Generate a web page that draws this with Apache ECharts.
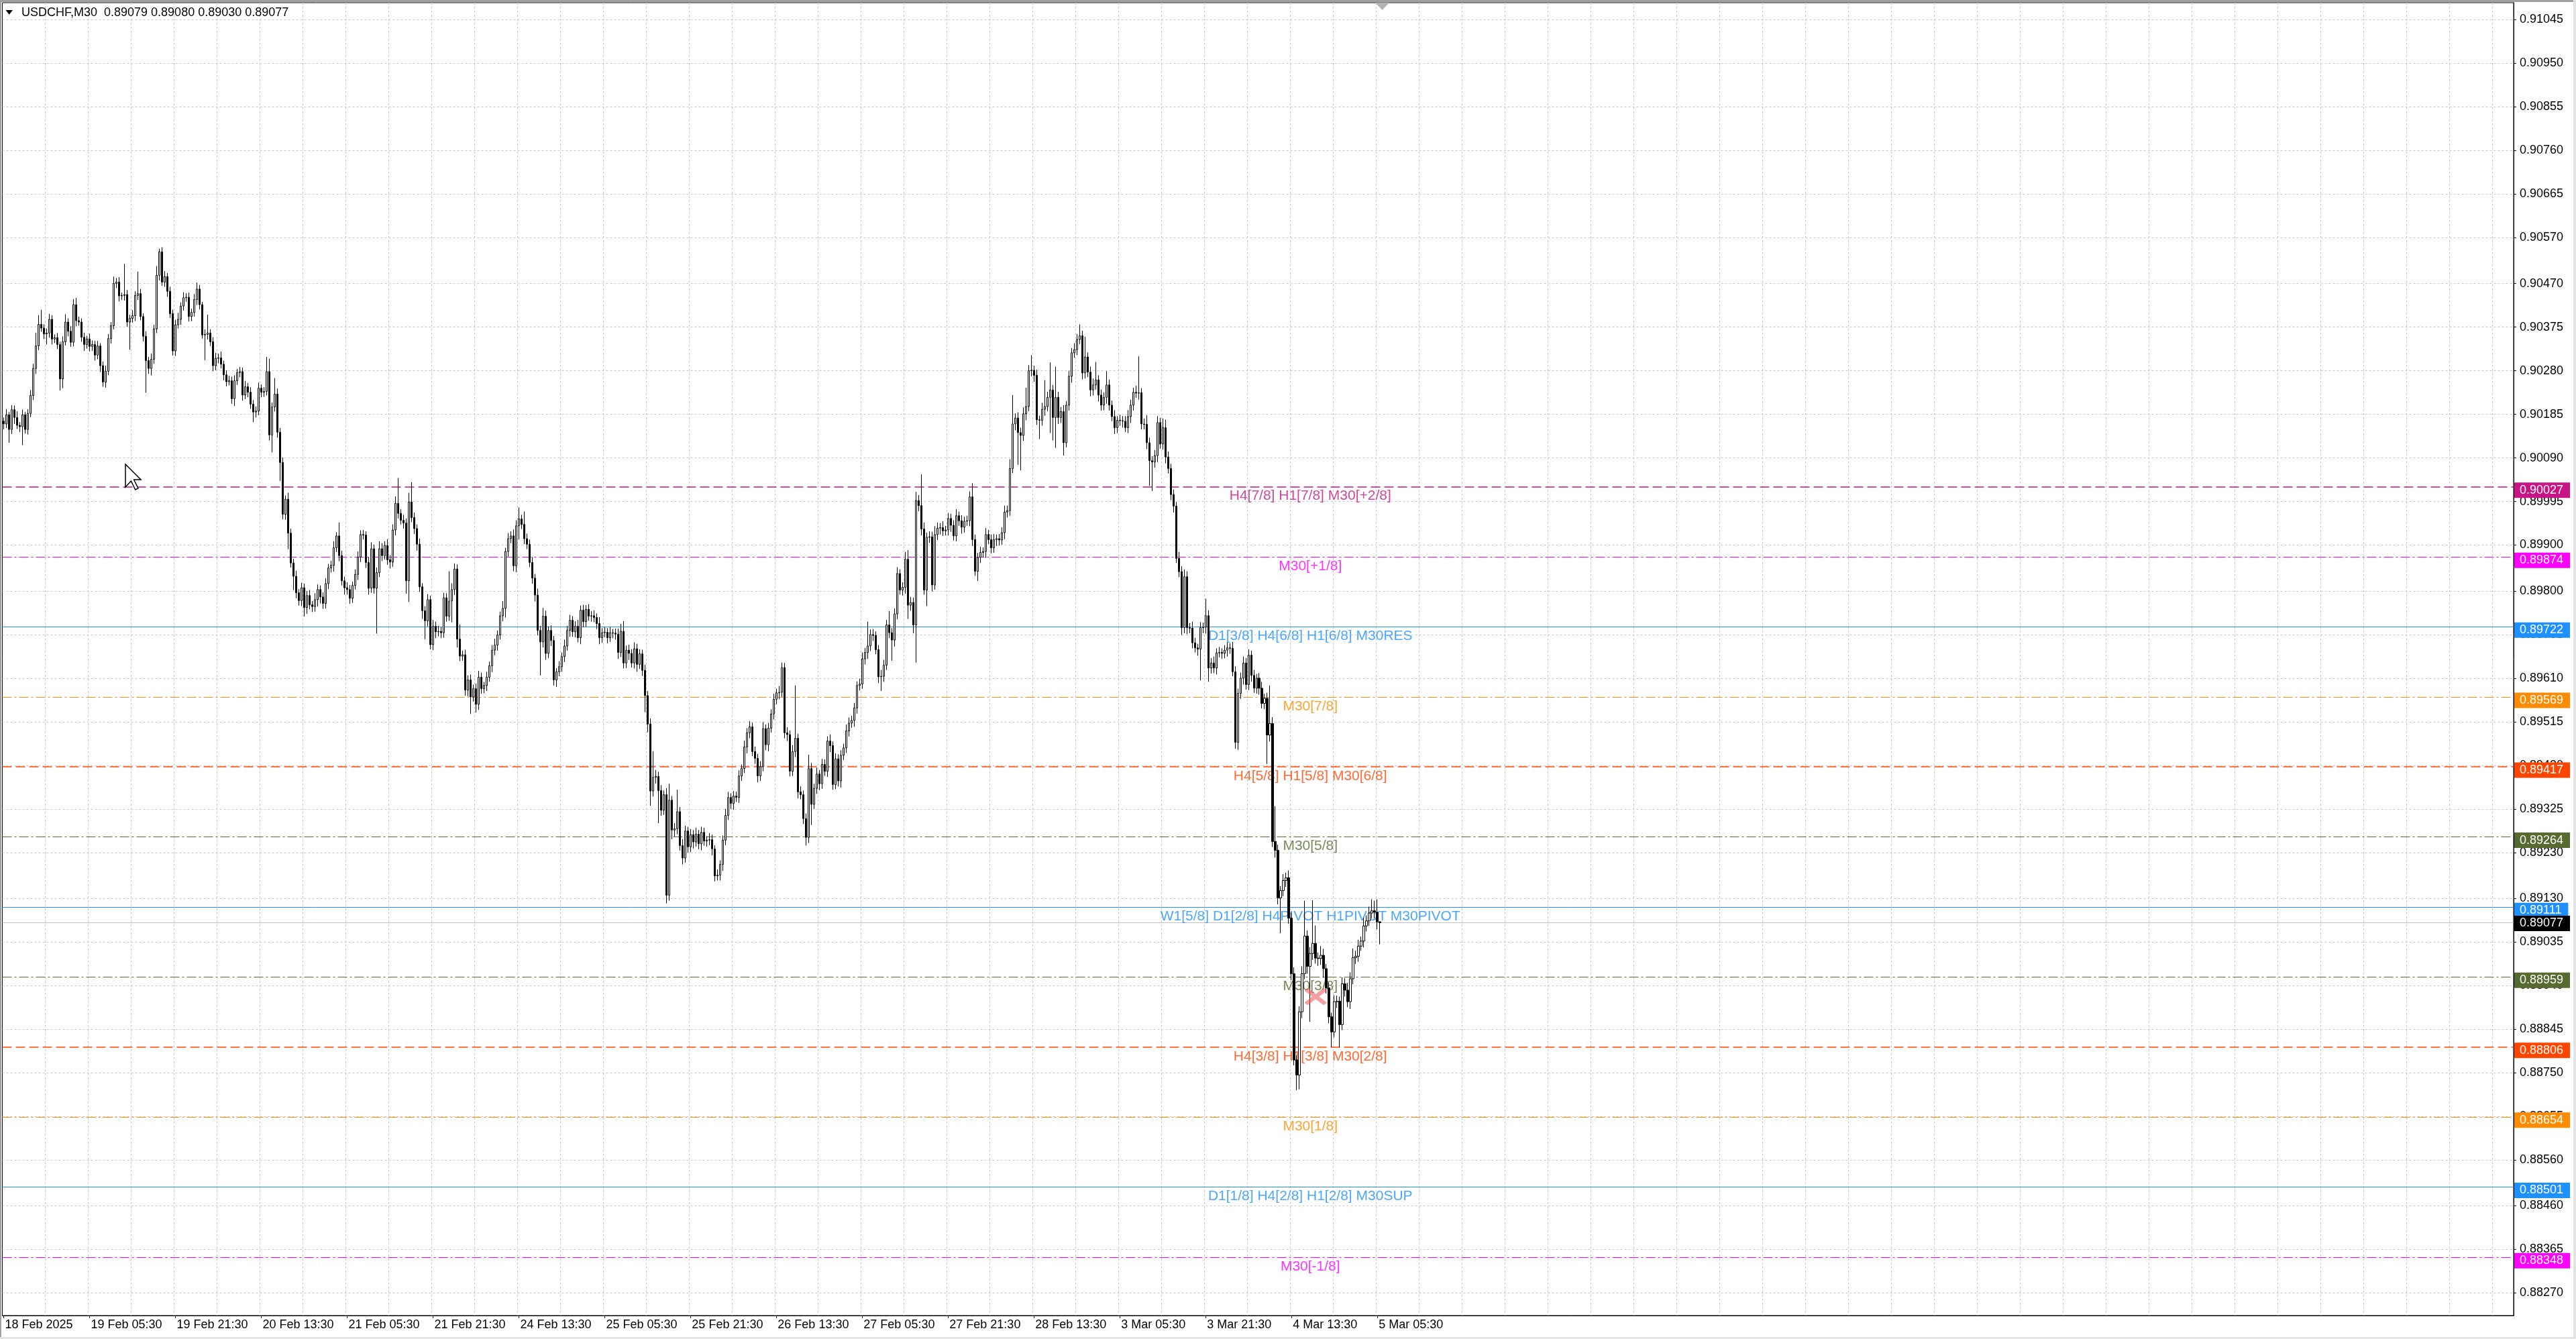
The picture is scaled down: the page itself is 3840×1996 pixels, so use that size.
<!DOCTYPE html>
<html>
<head>
<meta charset="utf-8">
<title>USDCHF,M30</title>
<script src="https://cdn.jsdelivr.net/npm/echarts@6.0.0/dist/echarts.min.js"></script>
<style>
    html, body { margin: 0; padding: 0; background: #fff; }
    #chart { width: 3840px; height: 1996px; }
</style>
</head>
<body>
<div id="chart"></div>
<script>
// USDCHF M30 candles, 18 Feb 2025 13:30 .. 5 Mar 2025 06:00
var symbolName = 'USDCHF,M30';
var firstOpen = 0.90170;

var closes = [
    0.90164, 0.90184, 0.90152, 0.90195, 0.90178, 0.90161, 0.90158, 0.90184, 0.90152, 0.90187,
    0.90226, 0.90285, 0.90334, 0.90381, 0.90373, 0.90360, 0.90362, 0.90392, 0.90349, 0.90352,
    0.90337, 0.90262, 0.90343, 0.90386, 0.90366, 0.90342, 0.90424, 0.90389, 0.90386, 0.90353,
    0.90337, 0.90349, 0.90333, 0.90337, 0.90314, 0.90334, 0.90291, 0.90255, 0.90279, 0.90350,
    0.90378, 0.90470, 0.90473, 0.90443, 0.90444, 0.90446, 0.90386, 0.90394, 0.90400, 0.90444,
    0.90448, 0.90398, 0.90355, 0.90302, 0.90285, 0.90305, 0.90371, 0.90488, 0.90539, 0.90473,
    0.90485, 0.90453, 0.90404, 0.90323, 0.90380, 0.90392, 0.90421, 0.90439, 0.90440, 0.90398,
    0.90407, 0.90435, 0.90458, 0.90424, 0.90358, 0.90359, 0.90362, 0.90343, 0.90291, 0.90307,
    0.90308, 0.90294, 0.90271, 0.90256, 0.90258, 0.90219, 0.90258, 0.90276, 0.90278, 0.90227,
    0.90245, 0.90233, 0.90207, 0.90190, 0.90192, 0.90242, 0.90233, 0.90235, 0.90278, 0.90140,
    0.90201, 0.90229, 0.90146, 0.90080, 0.89967, 0.90000, 0.89926, 0.89861, 0.89832, 0.89796,
    0.89779, 0.89807, 0.89764, 0.89790, 0.89770, 0.89766, 0.89781, 0.89803, 0.89787, 0.89773,
    0.89816, 0.89850, 0.89856, 0.89894, 0.89920, 0.89877, 0.89822, 0.89807, 0.89803, 0.89784,
    0.89812, 0.89836, 0.89874, 0.89923, 0.89922, 0.89862, 0.89806, 0.89892, 0.89806, 0.89840,
    0.89892, 0.89877, 0.89899, 0.89868, 0.89863, 0.89933, 0.89991, 0.89969, 0.89954, 0.89948,
    0.89822, 0.89994, 0.89960, 0.89936, 0.89902, 0.89809, 0.89757, 0.89735, 0.89781, 0.89683,
    0.89723, 0.89711, 0.89712, 0.89709, 0.89785, 0.89745, 0.89778, 0.89803, 0.89848, 0.89695,
    0.89658, 0.89661, 0.89584, 0.89606, 0.89569, 0.89587, 0.89553, 0.89612, 0.89587, 0.89594,
    0.89612, 0.89637, 0.89671, 0.89682, 0.89704, 0.89746, 0.89762, 0.89886, 0.89914, 0.89920,
    0.89855, 0.89942, 0.89957, 0.89945, 0.89914, 0.89902, 0.89862, 0.89828, 0.89791, 0.89714,
    0.89689, 0.89745, 0.89664, 0.89714, 0.89692, 0.89606, 0.89624, 0.89635, 0.89657, 0.89680,
    0.89714, 0.89736, 0.89711, 0.89723, 0.89698, 0.89758, 0.89733, 0.89760, 0.89745, 0.89746,
    0.89742, 0.89729, 0.89698, 0.89709, 0.89710, 0.89698, 0.89709, 0.89708, 0.89706, 0.89666,
    0.89712, 0.89643, 0.89671, 0.89664, 0.89643, 0.89674, 0.89640, 0.89663, 0.89627, 0.89572,
    0.89510, 0.89364, 0.89394, 0.89396, 0.89365, 0.89322, 0.89356, 0.89137, 0.89344, 0.89279,
    0.89282, 0.89319, 0.89245, 0.89218, 0.89277, 0.89242, 0.89269, 0.89253, 0.89270, 0.89249,
    0.89274, 0.89255, 0.89257, 0.89258, 0.89238, 0.89179, 0.89181, 0.89204, 0.89257, 0.89311,
    0.89350, 0.89337, 0.89353, 0.89350, 0.89397, 0.89413, 0.89460, 0.89491, 0.89504, 0.89450,
    0.89435, 0.89397, 0.89417, 0.89500, 0.89465, 0.89501, 0.89532, 0.89564, 0.89578, 0.89579,
    0.89633, 0.89491, 0.89487, 0.89407, 0.89450, 0.89479, 0.89362, 0.89356, 0.89304, 0.89263,
    0.89413, 0.89335, 0.89370, 0.89401, 0.89380, 0.89422, 0.89407, 0.89473, 0.89463, 0.89378,
    0.89434, 0.89386, 0.89442, 0.89458, 0.89495, 0.89512, 0.89518, 0.89545, 0.89594, 0.89597,
    0.89652, 0.89666, 0.89680, 0.89705, 0.89703, 0.89672, 0.89613, 0.89614, 0.89638, 0.89726,
    0.89709, 0.89693, 0.89750, 0.89838, 0.89802, 0.89808, 0.89869, 0.89769, 0.89775, 0.89726,
    0.89997, 0.89986, 0.89935, 0.89802, 0.89917, 0.89918, 0.89813, 0.89923, 0.89937, 0.89938,
    0.89931, 0.89933, 0.89958, 0.89943, 0.89920, 0.89964, 0.89953, 0.89939, 0.89952, 0.89953,
    0.90005, 0.89912, 0.89843, 0.89873, 0.89884, 0.89886, 0.89923, 0.89912, 0.89894, 0.89912,
    0.89914, 0.89911, 0.89927, 0.89972, 0.89975, 0.90067, 0.90164, 0.90177, 0.90145, 0.90139,
    0.90186, 0.90202, 0.90280, 0.90281, 0.90270, 0.90173, 0.90172, 0.90196, 0.90202, 0.90222,
    0.90238, 0.90178, 0.90222, 0.90178, 0.90191, 0.90123, 0.90205, 0.90268, 0.90319, 0.90326,
    0.90348, 0.90356, 0.90275, 0.90310, 0.90277, 0.90238, 0.90249, 0.90260, 0.90227, 0.90205,
    0.90222, 0.90249, 0.90205, 0.90180, 0.90156, 0.90172, 0.90171, 0.90170, 0.90156, 0.90180,
    0.90205, 0.90233, 0.90231, 0.90232, 0.90164, 0.90163, 0.90123, 0.90084, 0.90081, 0.90095,
    0.90167, 0.90120, 0.90156, 0.90092, 0.90067, 0.90010, 0.89985, 0.89871, 0.89842, 0.89720,
    0.89831, 0.89720, 0.89719, 0.89687, 0.89676, 0.89673, 0.89720, 0.89721, 0.89746, 0.89632,
    0.89643, 0.89632, 0.89665, 0.89666, 0.89664, 0.89671, 0.89676, 0.89675, 0.89624, 0.89470,
    0.89577, 0.89610, 0.89643, 0.89596, 0.89660, 0.89616, 0.89588, 0.89610, 0.89588, 0.89555,
    0.89566, 0.89486, 0.89511, 0.89254, 0.89235, 0.89131, 0.89147, 0.89169, 0.89175, 0.89087,
    0.88966, 0.88778, 0.88745, 0.88883, 0.88966, 0.89048, 0.88982, 0.89010, 0.89032, 0.89000,
    0.88999, 0.89006, 0.88977, 0.88935, 0.88872, 0.88839, 0.88905, 0.88906, 0.88855, 0.88944,
    0.88930, 0.88905, 0.88955, 0.89001, 0.89004, 0.89026, 0.89037, 0.89070, 0.89081, 0.89098,
    0.89103, 0.89100, 0.89079, 0.89077
];

// wick lengths in points (0.00001): above the body and below it
var upperWick = [
    8, 12, 6, 10, 9, 14, 7, 11, 6, 9, 12, 10, 29, 20, 32, 8, 10, 12, 9, 7,
    10, 6, 12, 17, 8, 11, 12, 15, 9, 8, 10, 7, 12, 9, 8, 11, 6, 9, 12, 10,
    8, 15, 9, 11, 6, 67, 10, 8, 12, 9, 48, 10, 7, 11, 8, 12, 9, 20, 7, 10,
    12, 8, 10, 9, 11, 14, 8, 12, 9, 10, 8, 12, 14, 9, 6, 11, 40, 8, 10, 12,
    9, 14, 8, 10, 11, 9, 12, 8, 10, 9, 13, 8, 11, 9, 10, 12, 8, 9, 32, 28,
    10, 35, 12, 9, 11, 8, 14, 10, 9, 12, 8, 11, 9, 10, 12, 8, 14, 11, 9, 10,
    12, 9, 10, 14, 8, 29, 11, 9, 12, 10, 8, 11, 12, 9, 10, 8, 12, 14, 9, 11,
    16, 12, 9, 14, 10, 12, 15, 55, 9, 12, 10, 20, 43, 11, 9, 12, 8, 10, 12, 9,
    14, 10, 12, 9, 11, 10, 65, 14, 12, 10, 32, 9, 11, 10, 12, 9, 11, 14, 10, 8,
    12, 9, 11, 14, 10, 9, 16, 8, 12, 10, 14, 12, 25, 9, 28, 11, 10, 12, 9, 14,
    10, 18, 12, 9, 11, 10, 8, 12, 9, 14, 10, 12, 9, 11, 14, 10, 12, 9, 11, 10,
    12, 9, 14, 10, 11, 9, 12, 8, 10, 12, 16, 22, 10, 12, 9, 14, 11, 10, 9, 12,
    10, 12, 57, 14, 10, 12, 9, 14, 36, 9, 12, 48, 10, 14, 11, 9, 12, 10, 14, 9,
    12, 10, 9, 14, 11, 8, 12, 9, 10, 14, 12, 9, 11, 10, 12, 9, 14, 10, 12, 9,
    11, 10, 12, 14, 9, 11, 10, 12, 9, 14, 11, 10, 12, 9, 14, 115, 10, 12, 9, 11,
    30, 12, 10, 14, 9, 12, 11, 10, 14, 9, 12, 10, 11, 9, 14, 12, 10, 11, 9, 12,
    14, 10, 53, 11, 12, 9, 10, 14, 12, 11, 30, 10, 12, 14, 9, 11, 16, 20, 12, 10,
    19, 12, 68, 14, 10, 12, 11, 18, 12, 10, 14, 9, 12, 10, 11, 14, 9, 12, 10, 11,
    12, 30, 11, 10, 12, 9, 14, 10, 11, 12, 9, 10, 12, 14, 11, 20, 63, 10, 12, 11,
    14, 41, 12, 33, 10, 12, 9, 14, 57, 12, 60, 11, 67, 12, 10, 14, 9, 12, 10, 14,
    12, 25, 11, 44, 10, 12, 14, 39, 10, 12, 11, 30, 12, 10, 14, 9, 12, 10, 11, 14,
    12, 10, 14, 79, 10, 12, 20, 11, 10, 12, 14, 10, 20, 17, 12, 10, 11, 9, 14, 12,
    16, 12, 10, 14, 11, 9, 12, 10, 37, 12, 11, 14, 10, 12, 9, 11, 12, 10, 14, 12,
    10, 12, 14, 11, 13, 10, 12, 9, 11, 14, 10, 12, 83, 14, 77, 12, 10, 14, 11, 16,
    12, 14, 10, 12, 16, 77, 12, 14, 94, 39, 12, 20, 14, 10, 12, 9, 14, 12, 10, 14,
    12, 16, 14, 20, 12, 14, 10, 18, 12, 14, 25, 22, 28, 1
];
var lowerWick = [
    12, 9, 29, 10, 14, 8, 12, 40, 9, 11, 8, 10, 12, 9, 8, 11, 23, 10, 12, 9,
    10, 25, 20, 8, 11, 10, 9, 12, 8, 10, 14, 9, 11, 10, 12, 9, 14, 10, 12, 9,
    11, 8, 10, 12, 9, 11, 10, 60, 9, 12, 10, 8, 11, 70, 12, 15, 10, 9, 11, 8,
    10, 12, 9, 10, 11, 8, 12, 10, 9, 11, 10, 9, 12, 10, 8, 55, 11, 9, 12, 10,
    11, 9, 12, 10, 8, 11, 16, 9, 10, 12, 9, 11, 10, 22, 12, 9, 11, 10, 9, 12,
    38, 10, 12, 40, 11, 12, 35, 10, 30, 12, 11, 12, 20, 14, 10, 12, 11, 15, 14, 12,
    11, 12, 10, 14, 9, 12, 10, 15, 11, 12, 10, 9, 12, 11, 10, 12, 14, 10, 12, 99,
    10, 12, 9, 11, 14, 10, 12, 11, 9, 12, 28, 46, 10, 12, 14, 11, 18, 40, 12, 10,
    12, 14, 10, 12, 11, 12, 10, 46, 12, 18, 11, 10, 12, 14, 37, 10, 18, 12, 11, 10,
    12, 10, 14, 11, 12, 10, 12, 20, 11, 10, 12, 14, 30, 10, 12, 11, 10, 12, 14, 11,
    73, 12, 14, 10, 12, 12, 15, 10, 11, 12, 10, 14, 11, 12, 10, 14, 12, 11, 10, 12,
    10, 12, 14, 11, 10, 12, 9, 11, 12, 14, 10, 12, 11, 14, 10, 12, 16, 10, 12, 36,
    18, 32, 12, 14, 71, 12, 10, 18, 12, 20, 14, 12, 11, 14, 10, 12, 11, 14, 10, 12,
    14, 10, 12, 11, 14, 12, 10, 12, 14, 11, 10, 12, 14, 10, 12, 11, 10, 14, 12, 10,
    12, 14, 11, 10, 12, 14, 10, 12, 11, 14, 10, 12, 14, 11, 10, 12, 14, 10, 12, 18,
    12, 45, 10, 12, 14, 11, 10, 12, 14, 11, 10, 12, 14, 10, 11, 12, 10, 14, 12, 11,
    10, 12, 14, 11, 12, 10, 14, 31, 12, 10, 12, 45, 14, 12, 10, 12, 14, 30, 12, 18,
    82, 12, 14, 10, 35, 12, 14, 10, 12, 14, 11, 10, 12, 14, 10, 12, 11, 14, 12, 10,
    12, 14, 10, 21, 12, 11, 14, 10, 12, 11, 14, 12, 10, 14, 12, 11, 10, 14, 70, 76,
    12, 14, 10, 12, 14, 11, 41, 12, 14, 10, 78, 50, 66, 14, 12, 28, 10, 12, 14, 11,
    12, 10, 14, 12, 11, 14, 12, 10, 14, 12, 11, 14, 12, 10, 14, 12, 11, 14, 10, 12,
    14, 12, 10, 14, 12, 11, 14, 55, 63, 12, 14, 10, 12, 14, 11, 12, 14, 10, 12, 16,
    12, 14, 11, 12, 10, 14, 68, 12, 14, 30, 12, 11, 14, 10, 12, 11, 14, 12, 10, 14,
    16, 12, 14, 11, 12, 14, 10, 12, 14, 11, 12, 63, 14, 12, 16, 14, 77, 12, 14, 12,
    14, 12, 33, 31, 14, 12, 16, 121, 14, 12, 16, 14, 20, 12, 14, 33, 12, 14, 50, 12,
    14, 12, 16, 12, 14, 12, 10, 14, 12, 11, 12, 14, 16, 47
];

// time labels, one every 32 bars
var timeLabels = ['18 Feb 2025', '19 Feb 05:30', '19 Feb 21:30', '20 Feb 13:30', '21 Feb 05:30',
    '21 Feb 21:30', '24 Feb 13:30', '25 Feb 05:30', '25 Feb 21:30', '26 Feb 13:30', '27 Feb 05:30',
    '27 Feb 21:30', '28 Feb 13:30', '3 Mar 05:30', '3 Mar 21:30', '4 Mar 13:30', '5 Mar 05:30'];

var priceTicks = [0.91045, 0.90950, 0.90855, 0.90760, 0.90665, 0.90570, 0.90470, 0.90375, 0.90280,
    0.90185, 0.90090, 0.89995, 0.89900, 0.89800, 0.89705, 0.89610, 0.89515, 0.89420, 0.89325,
    0.89230, 0.89130, 0.89035, 0.88940, 0.88845, 0.88750, 0.88655, 0.88560, 0.88460, 0.88365, 0.88270];

// Murrey math levels
var levelValues = [0.90027, 0.89874, 0.89722, 0.89569, 0.89417, 0.89264,
    0.89111, 0.88959, 0.88806, 0.88654, 0.88501, 0.88348];
var levelNames = ['H4[7/8] H1[7/8] M30[+2/8]', 'M30[+1/8]', 'D1[3/8] H4[6/8] H1[6/8] M30RES',
    'M30[7/8]', 'H4[5/8] H1[5/8] M30[6/8]', 'M30[5/8]', 'W1[5/8] D1[2/8] H4PIVOT H1PIVOT M30PIVOT',
    'M30[3/8]', 'H4[3/8] H1[3/8] M30[2/8]', 'M30[1/8]', 'D1[1/8] H4[2/8] H1[2/8] M30SUP', 'M30[-1/8]'];
var bidPrice = 0.89077;
var crossMark = [[489, 0.88916]];

// styles
var levelColors = ['#C71585', '#FF00FF', '#1E90FF', '#FF8C00', '#FF4500', '#556B2F',
    '#1E90FF', '#556B2F', '#FF4500', '#FF8C00', '#1E90FF', '#FF00FF'];
var levelDash = ['dash', 'dot', 'solid', 'dot', 'dash', 'dot', 'solid', 'dot', 'dash', 'dot', 'solid', 'dot'];
var DASHES = { dash: [14, 6], dot: [14, 4, 3, 4], solid: 'solid' };
var SLOTS = 936;          // bars that fit on screen incl. the shifted empty area
var LABEL_BAR = 487;      // where the level texts are centred
var FONT = "'Liberation Sans', Arial, sans-serif";

var chart = echarts.init(document.getElementById('chart'));

var cats = [];
for (var i = 0; i < SLOTS; i++) cats.push(String(i));

var candles = closes.map(function (c, i) {
    var o = i === 0 ? firstOpen : closes[i - 1];
    return [o, c, Math.min(o, c) - lowerWick[i] / 1e5, Math.max(o, c) + upperWick[i] / 1e5];
});
var last = candles[candles.length - 1];
var headerText = symbolName + '  ' + [last[0], last[3], last[2], last[1]].map(function (v) {
    return v.toFixed(5);
}).join(' ');

function labelBar(idx) { return idx % 32 === 0 && idx / 32 < timeLabels.length; }

function priceBox(v, bg, dy) {
    return {
        formatter: v.toFixed(5), backgroundColor: bg, color: '#fff',
        fontSize: 18, fontFamily: FONT, padding: [3, 10, 2, 8], distance: 1, offset: [0, dy]
    };
}

var lineItems = levelValues.map(function (v, k) {
    return {
        yAxis: v,
        lineStyle: { color: levelColors[k], type: DASHES[levelDash[k]], width: levelDash[k] === 'dash' ? 1.5 : 1 },
        label: priceBox(v, levelColors[k], 5)
    };
});
lineItems.push({
    yAxis: bidPrice,
    lineStyle: { color: '#C0C0C0', type: 'solid', width: 1 },
    label: priceBox(bidPrice, '#000', 1)
});

var textItems = levelValues.map(function (v, k) {
    return {
        value: [LABEL_BAR, v],
        label: {
            show: true, formatter: levelNames[k], position: 'bottom', distance: 3,
            color: levelColors[k], fontSize: 21, fontFamily: FONT
        }
    };
});

var option = {
    animation: false,
    backgroundColor: '#fff',
    grid: {
        left: 3.5, right: 93, top: 4, bottom: 35,
        show: true, borderColor: '#000', borderWidth: 1, backgroundColor: '#fff'
    },
    xAxis: {
        type: 'category',
        data: cats,
        boundaryGap: true,
        axisLine: { show: true, lineStyle: { color: '#000', width: 1 } },
        axisTick: {
            show: true, alignWithLabel: true, length: 4,
            interval: function (idx) { return labelBar(idx); },
            lineStyle: { color: '#000' }
        },
        axisLabel: {
            interval: function (idx) { return labelBar(idx); },
            formatter: function (val, idx) { return timeLabels[idx / 32]; },
            align: 'left', margin: 5, padding: [0, 0, 0, 2],
            color: '#000', fontSize: 18, fontFamily: FONT
        },
        splitLine: {
            show: true,
            interval: function (idx) { return idx % 16 === 0 && idx > 0; },
            lineStyle: { color: '#C8C8C8', type: [3, 3], width: 1 }
        }
    },
    yAxis: {
        type: 'value',
        position: 'right',
        min: 0.88221,
        max: 0.91082,
        axisLine: { show: true, lineStyle: { color: '#000', width: 1 } },
        axisTick: { show: true, length: 4, customValues: priceTicks, lineStyle: { color: '#000' } },
        axisLabel: {
            customValues: priceTicks,
            formatter: function (v) { return v.toFixed(5); },
            color: '#000', fontSize: 18, fontFamily: FONT, margin: 9
        },
        splitLine: { show: true, lineStyle: { color: '#C8C8C8', type: [3, 3], width: 1 } }
    },
    series: [
        {
            name: 'levels',
            type: 'scatter',
            z: 1,
            silent: true,
            symbolSize: 1,
            itemStyle: { color: 'rgba(0,0,0,0)' },
            data: textItems,
            markLine: {
                z: 1,
                silent: true,
                precision: 5,
                symbol: ['none', 'none'],
                label: { show: true, position: 'end' },
                data: lineItems
            }
        },
        {
            name: symbolName,
            type: 'candlestick',
            z: 3,
            barWidth: 3,
            data: candles,
            itemStyle: {
                color: '#fff', color0: '#000',
                borderColor: '#000', borderColor0: '#000', borderWidth: 1
            }
        },
        {
            name: 'close',
            type: 'scatter',
            z: 4,
            silent: true,
            symbol: 'path://M0,1.5L1.5,0L5,3.5L8.5,0L10,1.5L6.5,5L10,8.5L8.5,10L5,6.5L1.5,10L0,8.5L3.5,5Z',
            symbolSize: [34, 26],
            itemStyle: { color: 'rgba(236,96,96,0.75)' },
            data: crossMark
        }
    ],
    graphic: [
        { type: 'rect', shape: { x: 0, y: 0, width: 3840, height: 3 }, style: { fill: '#A0A0A0' }, z: 20 },
        { type: 'rect', shape: { x: 0, y: 0, width: 2, height: 1996 }, style: { fill: '#A0A0A0' }, z: 20 },
        { type: 'rect', shape: { x: 3836, y: 0, width: 4, height: 1996 }, style: { fill: '#E3E3E3' }, z: 20 },
        { type: 'rect', shape: { x: 0, y: 1993, width: 3840, height: 3 }, style: { fill: '#E3E3E3' }, z: 20 },
        // chart shift marker
        { type: 'polygon', shape: { points: [[2050, 4], [2071, 4], [2060.5, 15]] }, style: { fill: '#B4B4B4' }, z: 20 },
        // header
        { type: 'polygon', shape: { points: [[8.5, 15], [19, 15], [13.75, 21.7]] }, style: { fill: '#000' }, z: 20 },
        {
            type: 'text', x: 32, y: 19, z: 20,
            style: { text: headerText, fill: '#000', font: '18px ' + FONT, textVerticalAlign: 'middle', verticalAlign: 'middle' }
        },
        // mouse pointer
        {
            type: 'polygon', z: 20,
            shape: { points: [[187, 692], [187, 726], [195.4, 717], [201.7, 730], [206, 728], [199.6, 715], [210, 715]] },
            style: { fill: '#fff', stroke: '#000', lineWidth: 1.5 }
        }
    ]
};

chart.setOption(option);
</script>
</body>
</html>
